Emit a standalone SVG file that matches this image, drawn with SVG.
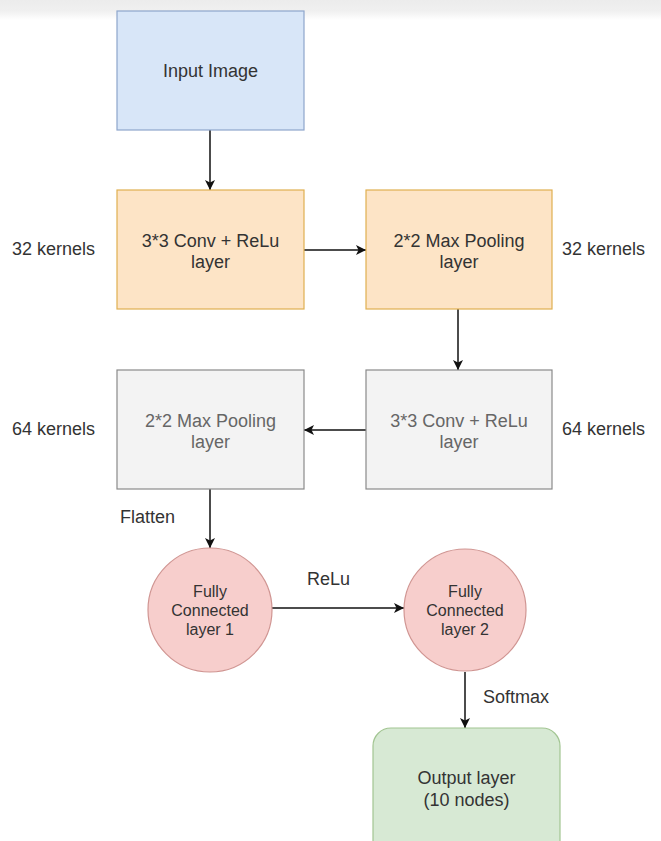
<svg xmlns="http://www.w3.org/2000/svg" width="661" height="841" viewBox="0 0 661 841">
<defs>
<linearGradient id="band" x1="0" y1="0" x2="0" y2="1">
<stop offset="0" stop-color="#ececec"/>
<stop offset="0.55" stop-color="#f0f0f0"/>
<stop offset="1" stop-color="#ffffff"/>
</linearGradient>
<marker id="arr" viewBox="0 0 10 10" refX="10" refY="5" markerWidth="10" markerHeight="10" markerUnits="userSpaceOnUse" orient="auto">
<path d="M0,0 L10,5 L0,10 L2.5,5 Z" fill="#111"/>
</marker>
<style>
text{font-family:"Liberation Sans",Arial,sans-serif;font-size:18px;fill:#333;}
.c{text-anchor:middle;}
.s{font-size:16px;}
.g{fill:#666;}
.blue{fill:#d8e6f8;stroke:#8ea6cc;stroke-width:1.2;}
.orange{fill:#fde4c6;stroke:#dfb050;stroke-width:1.2;}
.gray{fill:#f3f3f3;stroke:#8a8a8a;stroke-width:1.2;}
.red{fill:#f7cecc;stroke:#d09592;stroke-width:1.2;}
.green{fill:#d7e9d4;stroke:#a2c592;stroke-width:1.2;}
.e{stroke:#111;stroke-width:1.5;fill:none;marker-end:url(#arr);}
</style>
</defs>
<rect width="661" height="841" fill="#ffffff"/>
<rect x="0" y="0" width="661" height="20" fill="url(#band)"/>

<g id="connectors">
<line class="e" x1="210" y1="130" x2="210" y2="190"/>
<line class="e" x1="304" y1="250" x2="366" y2="250"/>
<line class="e" x1="458" y1="309" x2="458" y2="370"/>
<line class="e" x1="366" y1="430" x2="304" y2="430"/>
<line class="e" x1="210" y1="489" x2="210" y2="548"/>
<line class="e" x1="272" y1="608" x2="404" y2="608"/>
<line class="e" x1="465" y1="672" x2="465" y2="728"/>
</g>

<g id="input">
<rect class="blue" x="117" y="11" width="187" height="119"/>
<text class="c" x="210.5" y="77">Input Image</text>
</g>

<g id="conv1">
<rect class="orange" x="117" y="190" width="187" height="119"/>
<text class="c" x="210.5" y="247">3*3 Conv + ReLu</text>
<text class="c" x="210.5" y="268">layer</text>
</g>

<g id="pool1">
<rect class="orange" x="366" y="190" width="186" height="119"/>
<text class="c" x="459" y="247">2*2 Max Pooling</text>
<text class="c" x="459" y="268">layer</text>
</g>

<g id="conv2">
<rect class="gray" x="366" y="370" width="186" height="119"/>
<text class="c g" x="459" y="427">3*3 Conv + ReLu</text>
<text class="c g" x="459" y="448">layer</text>
</g>

<g id="pool2">
<rect class="gray" x="117" y="370" width="187" height="119"/>
<text class="c g" x="210.5" y="427">2*2 Max Pooling</text>
<text class="c g" x="210.5" y="448">layer</text>
</g>

<g id="fc1">
<circle class="red" cx="210" cy="610" r="62"/>
<text class="c s" x="210" y="597">Fully</text>
<text class="c s" x="210" y="616">Connected</text>
<text class="c s" x="210" y="635">layer 1</text>
</g>

<g id="fc2">
<circle class="red" cx="465" cy="610" r="61"/>
<text class="c s" x="465" y="597">Fully</text>
<text class="c s" x="465" y="616">Connected</text>
<text class="c s" x="465" y="635">layer 2</text>
</g>

<g id="output">
<rect class="green" x="373" y="728" width="187" height="135" rx="18" ry="18"/>
<text class="c" x="466.5" y="784">Output layer</text>
<text class="c" x="466.5" y="806">(10 nodes)</text>
</g>

<g id="labels">
<text x="12" y="255">32 kernels</text>
<text x="562" y="255">32 kernels</text>
<text x="12" y="435">64 kernels</text>
<text x="562" y="435">64 kernels</text>
<text x="120" y="523">Flatten</text>
<text x="307" y="585">ReLu</text>
<text x="483" y="703">Softmax</text>
</g>
</svg>
